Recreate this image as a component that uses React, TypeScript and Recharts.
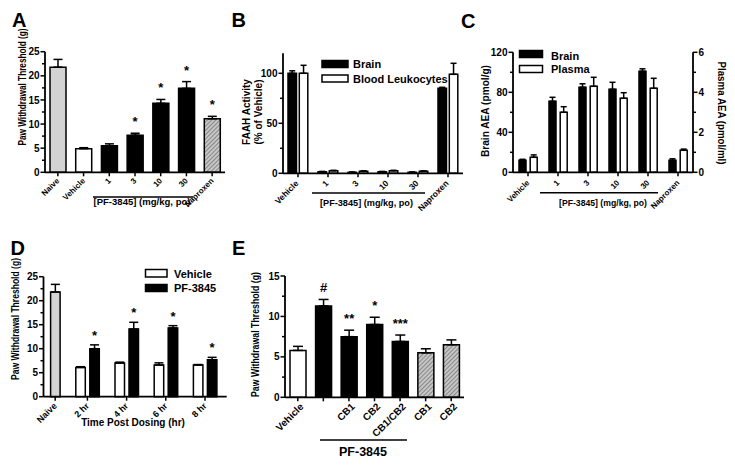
import React from "react";
import { BarChart, Bar, XAxis, YAxis, ErrorBar, Cell, LabelList } from "recharts";

// Five-panel PF-3845 figure: each panel is a full-page BarChart laid over the
// others, so margins can be given in page coordinates.

const FONT = "'Liberation Sans', Arial, Helvetica, sans-serif";
const PAGE_W = 735;
const PAGE_H = 476;
const AXIS_W = 30;
const AXIS_H = 30;

// ---- A: dose response, paw withdrawal threshold (g)
const aCategories = ["Naive", "Vehicle", "1", "3", "10", "30", "Naproxen"];
const aThreshold = [21.8, 4.9, 5.5, 7.7, 14.3, 17.4, 11.1];
const aSem = [1.6, 0.2, 0.4, 0.4, 0.8, 1.4, 0.5];
const aSig = ["", "", "", "*", "*", "*", "*"];
const aGroup = ["naive", "vehicle", "drug", "drug", "drug", "drug", "naproxen"];
const thresholdTicks = [0, 2.5, 5, 7.5, 10, 12.5, 15, 17.5, 20, 22.5, 25];

// ---- B: FAAH activity (% of vehicle)
const bCategories = ["Vehicle", "1", "3", "10", "30", "Naproxen"];
const bSeries = ["Brain", "Blood Leukocytes"];
const bBrain = [100, 1.5, 1, 1.5, 1, 85];
const bBrainSem = [2.5, 0.4, 0.3, 0.4, 0.3, 1];
const bLeukocytes = [100, 2.5, 2, 2.5, 2, 99];
const bLeukocytesSem = [8, 0.5, 0.4, 0.5, 0.4, 11];
const faahTicks = [0, 25, 50, 75, 100];

// ---- C: AEA levels, brain (pmol/g, left) and plasma (pmol/ml, right)
const cCategories = ["Vehicle", "1", "3", "10", "30", "Naproxen"];
const cSeries = ["Brain", "Plasma"];
const cBrain = [12, 71, 85, 83, 101, 12];
const cBrainSem = [1, 4, 3.5, 7, 2.5, 1.5];
const cPlasma = [0.75, 3.0, 4.3, 3.7, 4.2, 1.1];
const cPlasmaSem = [0.12, 0.28, 0.45, 0.28, 0.5, 0.06];
const brainTicks = [0, 20, 40, 60, 80, 100, 120];
const plasmaTicks = [0, 1, 2, 3, 4, 5, 6];

// ---- D: time course
const dCategories = ["Naive", "2 hr", "4 hr", "6 hr", "8 hr"];
const dSeries = ["Vehicle", "PF-3845"];
const dNaive = [21.8, null, null, null, null];
const dNaiveSem = [1.6, null, null, null, null];
const dVehicle = [null, 6.1, 7.0, 6.6, 6.6];
const dVehicleSem = [null, 0.15, 0.2, 0.45, 0.1];
const dPf = [null, 10.0, 14.1, 14.3, 7.7];
const dPfSem = [null, 0.8, 1.4, 0.5, 0.5];
const dSig = ["", "*", "*", "*", "*"];

// ---- E: cannabinoid receptor antagonists
const eCategories = ["Vehicle", "", "CB1", "CB2", "CB1/CB2", "CB1", "CB2"];
const eThreshold = [5.8, 11.3, 7.5, 9.0, 6.9, 5.5, 6.5];
const eSem = [0.5, 0.8, 0.8, 0.9, 0.8, 0.5, 0.6];
const eSig = ["", "#", "**", "*", "***", "", ""];
const eGroup = ["vehicle", "drug", "drug", "drug", "drug", "antagonist", "antagonist"];
const eTicks = [0, 2.5, 5, 7.5, 10, 12.5, 15];

const FILLS: Record<string, string> = {
  naive: "#d3d3d3",
  vehicle: "#ffffff",
  drug: "#000000",
  naproxen: "url(#hatchA)",
  antagonist: "url(#hatchE)",
};

const up = (v: number | null) => (v == null ? null : [0, v]);

const aRows = aCategories.map((cat, i) => ({ cat, value: aThreshold[i], err: up(aSem[i]) }));
const bRows = bCategories.map((cat, i) => ({
  cat,
  brain: bBrain[i],
  brainErr: up(bBrainSem[i]),
  leuk: bLeukocytes[i],
  leukErr: up(bLeukocytesSem[i]),
}));
const cRows = cCategories.map((cat, i) => ({
  cat,
  brain: cBrain[i],
  brainErr: up(cBrainSem[i]),
  plasma: cPlasma[i],
  plasmaErr: up(cPlasmaSem[i]),
}));
const dRows = dCategories.map((cat, i) => ({
  cat,
  naive: dNaive[i],
  naiveErr: up(dNaiveSem[i]),
  vehicle: dVehicle[i],
  vehicleErr: up(dVehicleSem[i]),
  pf: dPf[i],
  pfErr: up(dPfSem[i]),
}));
const eRows = eCategories.map((cat, i) => ({ cat, value: eThreshold[i], err: up(eSem[i]) }));

type Frame = { x0: number; x1: number; y0: number; y1: number; right?: boolean };
const frameA: Frame = { x0: 45, x1: 225, y0: 51.7, y1: 172.3 };
const frameB: Frame = { x0: 283, x1: 463, y0: 53.3, y1: 173.3 };
const frameC: Frame = { x0: 513, x1: 693, y0: 52.3, y1: 172.3, right: true };
const frameD: Frame = { x0: 43.5, x1: 226.7, y0: 276.7, y1: 396.7 };
const frameE: Frame = { x0: 285, x1: 464, y0: 276, y1: 397.3 };

function marginFor(f: Frame) {
  return {
    top: f.y0,
    left: f.x0 - AXIS_W,
    right: PAGE_W - f.x1 - (f.right ? AXIS_W : 0),
    bottom: PAGE_H - f.y1 - AXIS_H,
  };
}

const axisStyle = { stroke: "#000", strokeWidth: 1.8 };
const layer: React.CSSProperties = { position: "absolute", left: 0, top: 0 };

function yTick(axisX: number, majorEvery: number, side: "left" | "right" = "left") {
  return (p: any) => {
    const v = Number(p.payload.value);
    const r = v / majorEvery;
    const major = Math.abs(r - Math.round(r)) < 1e-6;
    const dir = side === "left" ? -1 : 1;
    return (
      <g>
        <line x1={axisX} x2={axisX + dir * (major ? 4.5 : 3)} y1={p.y} y2={p.y} stroke="#000" strokeWidth={1.5} />
        {major && (
          <text
            x={axisX + dir * 5.5}
            y={p.y}
            dy="0.36em"
            textAnchor={side === "left" ? "end" : "start"}
            fontFamily={FONT}
            fontWeight="bold"
            fontSize={10}
            fill="#000"
          >
            {v}
          </text>
        )}
      </g>
    );
  };
}

function xTick(axisY: number, fs: number, dx: number, dy: number, shift: (i: number) => number = () => 0) {
  return (p: any) => {
    const x = p.x + shift(p.index);
    return (
      <g>
        <line x1={x} x2={x} y1={axisY} y2={axisY + 4} stroke="#000" strokeWidth={1.5} />
        <text
          transform={`translate(${x + dx},${axisY + dy}) rotate(-45)`}
          textAnchor="end"
          dy="0.35em"
          fontFamily={FONT}
          fontWeight="bold"
          fontSize={fs}
          fill="#000"
        >
          {p.payload.value}
        </text>
      </g>
    );
  };
}

// significance marks sit above the top of each error bar; when `cats` is given
// the label value is the category name (bars with no value are skipped by the list)
function sigLabel(sig: string[], sem: (number | null)[], ppu: number, lift: number, cats?: string[]) {
  return (p: any) => {
    const i = cats ? cats.indexOf(String(p.value)) : p.index;
    const s = sig[i];
    if (!s) return null;
    const vb = p.viewBox ?? p;
    const cx = vb.x + vb.width / 2;
    const top = vb.y - (sem[i] ?? 0) * ppu;
    return (
      <text x={cx} y={top - lift} textAnchor="middle" fontFamily={FONT} fontWeight="bold" fontSize={13} fill="#000">
        {s}
      </text>
    );
  };
}

function hatch(id: string) {
  return (
    <defs>
      <pattern id={id} patternUnits="userSpaceOnUse" width={3} height={3} patternTransform="rotate(45)">
        <rect width={3} height={3} fill="#c6c6c6" />
        <line x1={0} y1={0} x2={0} y2={3} stroke="#5c5c5c" strokeWidth={1.2} />
      </pattern>
    </defs>
  );
}

function VTitle({ x, y, len, rot = -90, fs = 10, children }: any) {
  return (
    <text
      transform={`translate(${x},${y}) rotate(${rot})`}
      textAnchor="middle"
      dy="0.35em"
      fontSize={fs}
      textLength={len}
      lengthAdjust={len ? "spacingAndGlyphs" : undefined}
    >
      {children}
    </text>
  );
}

function LegendBox({ x, y, w, h, fill, label, tx, ty }: any) {
  return (
    <g>
      <rect x={x} y={y} width={w} height={h} fill={fill} stroke="#000" strokeWidth={1.5} />
      <text x={tx} y={ty} fontSize={11}>
        {label}
      </text>
    </g>
  );
}

const dSlot = (9.5 + 4.5) / 2;

export default function App() {
  return (
    <div style={{ position: "absolute", left: 0, top: 0, width: PAGE_W, height: PAGE_H, background: "#fff" }}>
      {/* A */}
      <div style={layer}>
        <BarChart width={PAGE_W} height={PAGE_H} data={aRows} margin={marginFor(frameA)} barSize={16}>
          {hatch("hatchA")}
          <XAxis dataKey="cat" interval={0} height={AXIS_H} tickLine={false} axisLine={axisStyle} tick={xTick(frameA.y1, 8, 0, 7)} />
          <YAxis domain={[0, 25]} ticks={thresholdTicks} interval={0} width={AXIS_W} tickLine={false} axisLine={axisStyle} tick={yTick(frameA.x0, 5)} />
          <Bar dataKey="value" stroke="#000" strokeWidth={1.5} isAnimationActive={false}>
            {aRows.map((r, i) => (
              <Cell key={r.cat + i} fill={FILLS[aGroup[i]]} />
            ))}
            <ErrorBar dataKey="err" width={4.5} stroke="#000" strokeWidth={1.5} />
            <LabelList dataKey="cat" content={sigLabel(aSig, aSem, 120.6 / 25, 7, aCategories)} />
          </Bar>
        </BarChart>
      </div>

      {/* B */}
      <div style={layer}>
        <BarChart width={PAGE_W} height={PAGE_H} data={bRows} margin={marginFor(frameB)} barSize={8.5} barGap={2.8}>
          <XAxis dataKey="cat" interval={0} height={AXIS_H} tickLine={false} axisLine={axisStyle} tick={xTick(frameB.y1, 8.5, -1, 8.5)} />
          <YAxis domain={[0, 120]} ticks={faahTicks} interval={0} width={AXIS_W} tickLine={false} axisLine={axisStyle} tick={yTick(frameB.x0, 50)} />
          <Bar dataKey="brain" name={bSeries[0]} fill="#000" stroke="#000" strokeWidth={1.5} isAnimationActive={false}>
            <ErrorBar dataKey="brainErr" width={3} stroke="#000" strokeWidth={1.5} />
          </Bar>
          <Bar dataKey="leuk" name={bSeries[1]} fill="#fff" stroke="#000" strokeWidth={1.5} isAnimationActive={false}>
            <ErrorBar dataKey="leukErr" width={3} stroke="#000" strokeWidth={1.5} />
          </Bar>
        </BarChart>
      </div>

      {/* C */}
      <div style={layer}>
        <BarChart width={PAGE_W} height={PAGE_H} data={cRows} margin={marginFor(frameC)} barSize={7} barGap={4.2}>
          <XAxis dataKey="cat" interval={0} height={AXIS_H} tickLine={false} axisLine={axisStyle} tick={xTick(frameC.y1, 8, 0, 9)} />
          <YAxis yAxisId="left" domain={[0, 120]} ticks={brainTicks} interval={0} width={AXIS_W} tickLine={false} axisLine={axisStyle} tick={yTick(frameC.x0, 40)} />
          <YAxis yAxisId="right" orientation="right" domain={[0, 6]} ticks={plasmaTicks} interval={0} width={AXIS_W} tickLine={false} axisLine={axisStyle} tick={yTick(frameC.x1, 2, "right")} />
          <Bar yAxisId="left" dataKey="brain" name={cSeries[0]} fill="#000" stroke="#000" strokeWidth={1.5} isAnimationActive={false}>
            <ErrorBar dataKey="brainErr" width={3} stroke="#000" strokeWidth={1.5} />
          </Bar>
          <Bar yAxisId="right" dataKey="plasma" name={cSeries[1]} fill="#fff" stroke="#000" strokeWidth={1.5} isAnimationActive={false}>
            <ErrorBar dataKey="plasmaErr" width={3} stroke="#000" strokeWidth={1.5} />
          </Bar>
        </BarChart>
      </div>

      {/* D */}
      <div style={layer}>
        <BarChart width={PAGE_W} height={PAGE_H} data={dRows} margin={marginFor(frameD)} barSize={9.5} barGap={4.5}>
          <XAxis
            dataKey="cat"
            interval={0}
            height={AXIS_H}
            padding={{ left: -14.9, right: 2.1 }}
            tickLine={false}
            axisLine={axisStyle}
            tick={xTick(frameD.y1, 9, 0, 7.5, (i) => (i === 0 ? dSlot : 0))}
          />
          <YAxis domain={[0, 25]} ticks={thresholdTicks} interval={0} width={AXIS_W} tickLine={false} axisLine={axisStyle} tick={yTick(frameD.x0, 5)} />
          <Bar dataKey="vehicle" name={dSeries[0]} stackId="v" fill="#fff" stroke="#000" strokeWidth={1.5} isAnimationActive={false}>
            <ErrorBar dataKey="vehicleErr" width={4.5} stroke="#000" strokeWidth={1.5} />
          </Bar>
          <Bar dataKey="naive" stackId="s" fill="#d3d3d3" stroke="#000" strokeWidth={1.5} isAnimationActive={false}>
            <ErrorBar dataKey="naiveErr" width={4.5} stroke="#000" strokeWidth={1.5} />
          </Bar>
          <Bar dataKey="pf" name={dSeries[1]} stackId="s" fill="#000" stroke="#000" strokeWidth={1.5} isAnimationActive={false}>
            <ErrorBar dataKey="pfErr" width={4.5} stroke="#000" strokeWidth={1.5} />
            <LabelList dataKey="cat" content={sigLabel(dSig, dPfSem, 120 / 25, 5, dCategories)} />
          </Bar>
        </BarChart>
      </div>

      {/* E */}
      <div style={layer}>
        <BarChart width={PAGE_W} height={PAGE_H} data={eRows} margin={marginFor(frameE)} barSize={16}>
          {hatch("hatchE")}
          <XAxis dataKey="cat" interval={0} height={AXIS_H} tickLine={false} axisLine={axisStyle} tick={xTick(frameE.y1, 10, 4, 7.5)} />
          <YAxis domain={[0, 15]} ticks={eTicks} interval={0} width={AXIS_W} tickLine={false} axisLine={axisStyle} tick={yTick(frameE.x0, 5)} />
          <Bar dataKey="value" stroke="#000" strokeWidth={1.5} isAnimationActive={false}>
            {eRows.map((r, i) => (
              <Cell key={r.cat + i} fill={FILLS[eGroup[i]]} />
            ))}
            <ErrorBar dataKey="err" width={5} stroke="#000" strokeWidth={1.5} />
            <LabelList dataKey="value" content={sigLabel(eSig, eSem, 121.3 / 15, 7)} />
          </Bar>
        </BarChart>
      </div>

      {/* titles, legends, brackets */}
      <svg width={PAGE_W} height={PAGE_H} style={{ ...layer, pointerEvents: "none" }} fontFamily={FONT} fontWeight="bold" fill="#000">
        <g fontSize={20}>
          <text x={12} y={27}>A</text>
          <text x={231.5} y={27}>B</text>
          <text x={461} y={28}>C</text>
          <text x={10.5} y={255}>D</text>
          <text x={232} y={255}>E</text>
        </g>

        <VTitle x={22} y={87} len={117}>Paw Withdrawal Threshold (g)</VTitle>
        <VTitle x={246} y={112}>FAAH Activity</VTitle>
        <VTitle x={258} y={112}>(% of Vehicle)</VTitle>
        <VTitle x={485} y={111} len={92}>Brain AEA (pmol/g)</VTitle>
        <VTitle x={721} y={113} len={103} rot={90}>Plasma AEA (pmol/ml)</VTitle>
        <VTitle x={15} y={319} len={122}>Paw Withdrawal Threshold (g)</VTitle>
        <VTitle x={255} y={334.5} len={125}>Paw Withdrawal Threshold (g)</VTitle>

        <line x1={93} x2={193} y1={197} y2={197} stroke="#000" strokeWidth={1.5} />
        <text x={142} y={204.5} textAnchor="middle" fontSize={9.5} textLength={97} lengthAdjust="spacingAndGlyphs">[PF-3845] (mg/kg, po)</text>
        <line x1={312} x2={425} y1={193} y2={193} stroke="#000" strokeWidth={1.5} />
        <text x={366.5} y={205.5} textAnchor="middle" fontSize={9.5} textLength={93} lengthAdjust="spacingAndGlyphs">[PF-3845] (mg/kg, po)</text>
        <line x1={540} x2={658} y1={192.7} y2={192.7} stroke="#000" strokeWidth={1.5} />
        <text x={603} y={206} textAnchor="middle" fontSize={9} textLength={88} lengthAdjust="spacingAndGlyphs">[PF-3845] (mg/kg, po)</text>

        <text x={133} y={426} textAnchor="middle" fontSize={10}>Time Post Dosing (hr)</text>

        <line x1={320} x2={407} y1={440} y2={440} stroke="#000" strokeWidth={1.5} />
        <text x={363} y={456} textAnchor="middle" fontSize={12.5}>PF-3845</text>

        <LegendBox x={322} y={60.5} w={26} h={7} fill="#000" label={bSeries[0]} tx={353} ty={68} />
        <LegendBox x={322} y={75} w={26} h={7} fill="#fff" label={bSeries[1]} tx={353} ty={82.5} />
        <LegendBox x={519.5} y={50.5} w={23} h={7} fill="#000" label={cSeries[0]} tx={551} ty={59.5} />
        <LegendBox x={519.5} y={65.5} w={23} h={7} fill="#fff" label={cSeries[1]} tx={551} ty={73} />
        <LegendBox x={145.5} y={269.5} w={21.5} h={7.5} fill="#fff" label={dSeries[0]} tx={174} ty={277.5} />
        <LegendBox x={145.5} y={284.5} w={21.5} h={7} fill="#000" label={dSeries[1]} tx={174} ty={292} />
      </svg>
    </div>
  );
}
